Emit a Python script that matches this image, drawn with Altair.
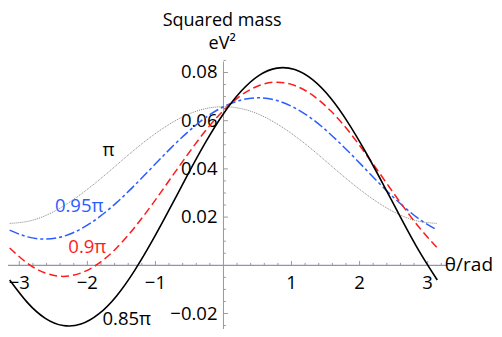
import altair as alt
import pandas as pd

# ---- data ----
theta = [-3.1416, -2.8798, -2.6180, -2.3562, -2.0944, -1.8326, -1.5708, -1.3090,
         -1.0472, -0.7854, -0.5236, -0.2618, 0.0, 0.2618, 0.5236, 0.7854, 1.0472,
         1.3090, 1.5708, 1.8326, 2.0944, 2.3562, 2.6180, 2.8798, 3.1416]

m_pi = [0.0174, 0.0182, 0.0206, 0.0245, 0.0295, 0.0353, 0.0416, 0.0479, 0.0537,
        0.0587, 0.0626, 0.0650, 0.0658, 0.0650, 0.0626, 0.0587, 0.0537, 0.0479,
        0.0416, 0.0353, 0.0295, 0.0245, 0.0206, 0.0182, 0.0174]

m_095 = [0.0146, 0.0118, 0.0109, 0.0120, 0.0151, 0.0199, 0.0260, 0.0331, 0.0407,
         0.0483, 0.0553, 0.0613, 0.0658, 0.0686, 0.0695, 0.0684, 0.0653, 0.0606,
         0.0544, 0.0473, 0.0397, 0.0321, 0.0251, 0.0191, 0.0146]

m_090 = [0.0072, 0.0008, -0.0032, -0.0046, -0.0032, 0.0008, 0.0072, 0.0156, 0.0253,
         0.0357, 0.0461, 0.0559, 0.0642, 0.0706, 0.0746, 0.0760, 0.0746, 0.0706,
         0.0642, 0.0559, 0.0461, 0.0357, 0.0253, 0.0156, 0.0072]

m_085 = [-0.0061, -0.0155, -0.0220, -0.0250, -0.0244, -0.0202, -0.0127, -0.0023,
         0.0101, 0.0237, 0.0377, 0.0511, 0.0629, 0.0723, 0.0788, 0.0818, 0.0812,
         0.0770, 0.0695, 0.0591, 0.0467, 0.0331, 0.0191, 0.0057, -0.0061]

x_major = [-3, -2, -1, 1, 2, 3]
x_major_labels = ["−3", "−2", "−1", "1", "2", "3"]
y_major = [-0.02, 0.02, 0.04, 0.06, 0.08]
y_major_labels = ["−0.02", "0.02", "0.04", "0.06", "0.08"]

curve_labels = ["π", "0.95π", "0.9π", "0.85π"]
curve_label_x = [-1.69, -2.12, -2.0, -1.42]
curve_label_y = [0.0478, 0.0247, 0.0075, -0.0224]
curve_colors = ["#000000", "#2b5cff", "#ff1a1a", "#000000"]

# ---- layout constants ----
FONT = "Open Sans"
FS = 18.5
W, H = 486, 321
XDOM = [-3.1662, 3.975]
YDOM = [-0.02643, 0.10676]
X_AXIS_END = 3.29
Y_AXIS = [-0.0296, 0.0845]

xs = alt.Scale(domain=XDOM, nice=False, zero=False)
ys = alt.Scale(domain=YDOM, nice=False, zero=False)
X = lambda f: alt.X(f, type="quantitative", scale=xs, axis=None)
Y = lambda f: alt.Y(f, type="quantitative", scale=ys, axis=None)

# axis lines
xaxis = alt.Chart(pd.DataFrame({"x": [XDOM[0]], "x2": [X_AXIS_END], "y": [0.0]})).mark_rule(
    color="#8e95b5", strokeWidth=1.2).encode(x=X("x"), x2="x2", y=Y("y"))
yaxis = alt.Chart(pd.DataFrame({"x": [0.0], "y": [Y_AXIS[0]], "y2": [Y_AXIS[1]]})).mark_rule(
    color="#9a9a9a", strokeWidth=1).encode(x=X("x"), y=Y("y"), y2="y2")

# ticks
xmin_ticks = [round(-3.2 + 0.2 * i, 2) for i in range(33)]
xmin_ticks = [t for t in xmin_ticks if abs(t - round(t)) > 1e-6]
xt = pd.DataFrame({"x": x_major + xmin_ticks,
                   "len": [0.0018] * len(x_major) + [0.001] * len(xmin_ticks)})
xt["y"] = 0.0
xt["y2"] = xt["len"]
xticks = alt.Chart(xt).mark_rule(color="#9a9a9a", strokeWidth=1).encode(
    x=X("x"), y=Y("y"), y2="y2")

ymin_ticks = [round(-0.025 + 0.005 * i, 4) for i in range(23)]
ymin_ticks = [t for t in ymin_ticks if abs(t / 0.02 - round(t / 0.02)) > 1e-6]
yt = pd.DataFrame({"y": y_major + ymin_ticks,
                   "len": [0.065] * len(y_major) + [0.035] * len(ymin_ticks)})
yt["x"] = 0.0
yt["x2"] = yt["len"]
yticks = alt.Chart(yt).mark_rule(color="#9a9a9a", strokeWidth=1).encode(
    x=X("x"), x2="x2", y=Y("y"))

# tick labels
xl = alt.Chart(pd.DataFrame({"x": x_major, "y": [0.0] * 6, "t": x_major_labels})).mark_text(
    font=FONT, fontSize=FS, dy=18, baseline="middle", align="center", color="black").encode(
    x=X("x"), y=Y("y"), text="t")
yl = alt.Chart(pd.DataFrame({"x": [0.0] * 5, "y": y_major, "t": y_major_labels})).mark_text(
    font=FONT, fontSize=FS, dx=-6, baseline="middle", align="right", color="black").encode(
    x=X("x"), y=Y("y"), text="t")

# titles
titles = alt.Chart(pd.DataFrame({"x": [-0.02, -0.02], "y": [0.1014, 0.0920],
                                 "t": ["Squared mass", "eV²"]})).mark_text(
    font=FONT, fontSize=18, baseline="middle", align="center", color="black").encode(
    x=X("x"), y=Y("y"), text="t")
xtitle = alt.Chart(pd.DataFrame({"x": [3.975], "y": [0.0], "t": ["θ/rad"]})).mark_text(
    font=FONT, fontSize=19, baseline="middle", align="right", dx=-1, color="black").encode(
    x=X("x"), y=Y("y"), text="t")

# curves
def curve(vals, color, width, dash=None):
    df = pd.DataFrame({"theta": theta, "m": vals})
    kw = dict(color=color, strokeWidth=width, interpolate="natural")
    if dash:
        kw["strokeDash"] = dash
    return alt.Chart(df).mark_line(**kw).encode(x=X("theta"), y=Y("m"))

c_pi = curve(m_pi, "#666666", 0.8, [1, 1])
c_095 = curve(m_095, "#2b5cff", 1.5, [10, 3, 3, 3])
c_090 = curve(m_090, "#ff1a1a", 1.5, [8, 4])
c_085 = curve(m_085, "#000000", 1.6)

lab = alt.Chart(pd.DataFrame({"x": curve_label_x, "y": curve_label_y, "t": curve_labels,
                              "c": curve_colors})).mark_text(
    font=FONT, fontSize=FS, baseline="middle", align="center").encode(
    x=X("x"), y=Y("y"), text="t", color=alt.Color("c:N", scale=None))

chart = alt.layer(xl, yl, xaxis, yaxis, xticks, yticks, titles, xtitle,
                  c_pi, c_095, c_090, c_085, lab).properties(
    width=W, height=H, autosize=alt.AutoSizeParams(type="none"), padding=0
).configure_view(stroke=None)

chart.save("out.html", embed_options={"renderer": "svg", "actions": False})
